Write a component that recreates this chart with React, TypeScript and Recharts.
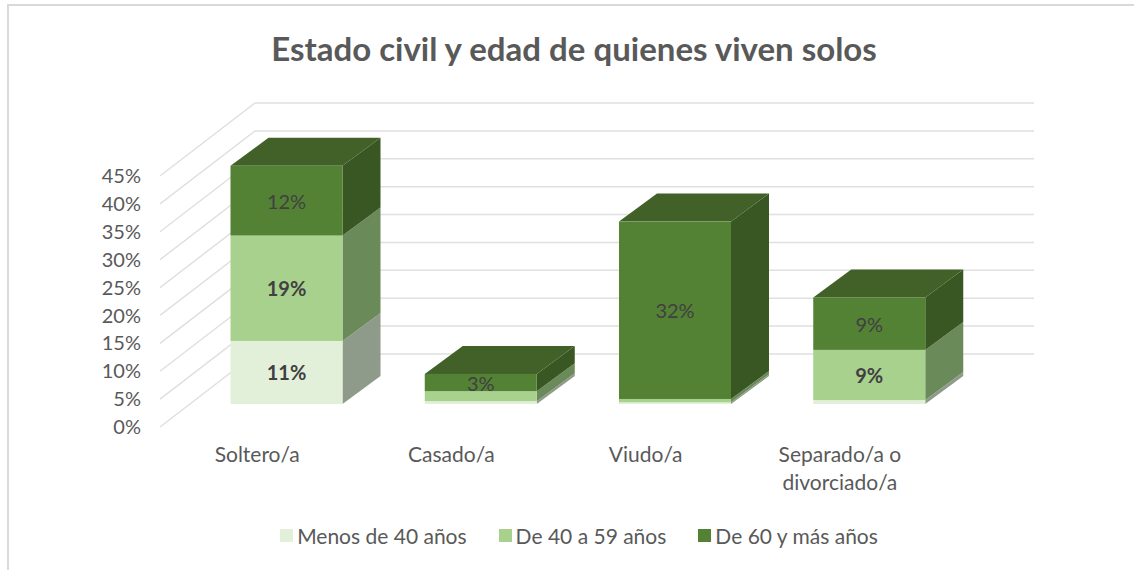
import React from "react";
import { BarChart, Bar, XAxis, YAxis, CartesianGrid, Legend, LabelList, Text } from "recharts";

const categories = ["Soltero/a", "Casado/a", "Viudo/a", "Separado/a o divorciado/a"];
const seriesNames = ["Menos de 40 años", "De 40 a 59 años", "De 60 y más años"];
const menos40 = [11.3, 0.5, 0.3, 0.7];
const de40a59 = [18.9, 1.8, 0.6, 9.0];
const de60 = [12.5, 3.1, 31.8, 9.4];
const labelsMenos40 = ["11%", "", "", ""];
const labelsDe40a59 = ["19%", "", "", "9%"];
const labelsDe60 = ["12%", "3%", "32%", "9%"];
const yTicks = [0, 5, 10, 15, 20, 25, 30, 35, 40, 45];

const FONT = "Lato, sans-serif";
const TEXT = "#595959";
const BAR_DX = 29.5;
const BAR_DY = -23;
const SIDE_DX = 38;
const SIDE_DY = -28;
const BACK_DX = 95;
const BACK_DX_RIGHT = 97;
const BACK_DY = -73;

const data = categories.map((c, i) => ({
  name: c,
  a: menos40[i],
  b: de40a59[i],
  c: de60[i],
}));

function face3D(front: string, side: string, top?: string) {
  return (p: any) => {
    const x = p.x + BAR_DX;
    const y = p.y + BAR_DY;
    const w = p.width;
    const h = p.height;
    return (
      <g>
        <polygon
          points={`${x + w},${y} ${x + w + SIDE_DX},${y + SIDE_DY} ${x + w + SIDE_DX},${y + h + SIDE_DY} ${x + w},${y + h}`}
          fill={side}
        />
        {top ? (
          <polygon
            points={`${x},${y} ${x + SIDE_DX},${y + SIDE_DY} ${x + w + SIDE_DX},${y + SIDE_DY} ${x + w},${y}`}
            fill={top}
          />
        ) : null}
        <rect x={x} y={y} width={w} height={h} fill={front} />
      </g>
    );
  };
}

function barLabel(labels: string[], bold: boolean) {
  return (p: any) => {
    const t = labels[p.index];
    if (!t) return null;
    return (
      <text
        x={p.x + p.width / 2 + BAR_DX}
        y={p.y + p.height / 2 + BAR_DY}
        textAnchor="middle"
        dominantBaseline="central"
        fontFamily={FONT}
        fontSize={20}
        fontWeight={bold ? 700 : 400}
        fill="#404040"
      >
        {t}
      </text>
    );
  };
}

function gridLine(p: any) {
  const { x1, x2, y1 } = p;
  return (
    <polyline
      key={p.key ?? y1}
      points={`${x1},${y1} ${x1 + BACK_DX},${y1 + BACK_DY} ${x2 + BACK_DX_RIGHT},${y1 + BACK_DY}`}
      fill="none"
      stroke="#e0e0e0"
      strokeWidth={1.5}
    />
  );
}

function CategoryTick(p: any) {
  return (
    <Text
      x={p.x}
      y={p.y + 12}
      width={150}
      textAnchor="middle"
      verticalAnchor="start"
      lineHeight={28}
      fontFamily={FONT}
      fontSize={21}
      fill={TEXT}
    >
      {p.payload.value}
    </Text>
  );
}

function LegendRow(p: any) {
  const items = p.payload ?? [];
  return (
    <div style={{ display: "flex", justifyContent: "center", paddingLeft: 24, fontFamily: FONT, fontSize: 21, color: TEXT }}>
      {items.map((it: any, i: number) => (
        <span key={it.value} style={{ display: "flex", alignItems: "center", marginRight: i < items.length - 1 ? 32 : 0 }}>
          <span style={{ width: 13, height: 13, background: it.color, marginRight: 4, display: "inline-block" }} />
          {it.value}
        </span>
      ))}
    </div>
  );
}

export default function App() {
  return (
    <div style={{ position: "absolute", left: 0, top: 0, width: 1134, height: 570, background: "#fff" }}>
      <div style={{ position: "absolute", left: 7, top: 4, width: 1127, height: 566, borderLeft: "2px solid #d9d9d9", borderTop: "2px solid #d9d9d9", boxSizing: "border-box" }} />
      <BarChart
        width={1134}
        height={570}
        data={data}
        margin={{ top: 176, right: 197, bottom: 83, left: 100 }}
        barSize={112}
        style={{ position: "absolute", left: 0, top: 0 }}
      >
        <text x={574} y={61} textAnchor="middle" fontFamily={FONT} fontSize={33} fontWeight={700} fill={TEXT}>
          Estado civil y edad de quienes viven solos
        </text>
        <CartesianGrid vertical={false} horizontal={gridLine} />
        <XAxis dataKey="name" axisLine={false} tickLine={false} interval={0} height={30} tick={CategoryTick} />
        <YAxis
          domain={[0, 45]}
          ticks={yTicks}
          interval={0}
          axisLine={false}
          tickLine={false}
          width={60}
          tickFormatter={(v: number) => `${v}%`}
          tick={{ fontFamily: FONT, fontSize: 20, fill: TEXT }}
          tickMargin={13}
        />
        <Bar dataKey="a" name={seriesNames[0]} stackId="s" fill="#E2F0D9" isAnimationActive={false} shape={face3D("#E2F0D9", "#8E9A8A")}>
          <LabelList content={barLabel(labelsMenos40, true)} />
        </Bar>
        <Bar dataKey="b" name={seriesNames[1]} stackId="s" fill="#A9D18E" isAnimationActive={false} shape={face3D("#A9D18E", "#6B8A5A")}>
          <LabelList content={barLabel(labelsDe40a59, true)} />
        </Bar>
        <Bar dataKey="c" name={seriesNames[2]} stackId="s" fill="#548235" isAnimationActive={false} shape={face3D("#548235", "#385723", "#416128")}>
          <LabelList content={barLabel(labelsDe60, false)} />
        </Bar>
        <Legend
          verticalAlign="bottom"
          height={30}
          itemSorter={null}
          content={LegendRow}
          wrapperStyle={{ bottom: 17, left: 0, width: 1134 }}
        />
      </BarChart>
    </div>
  );
}
